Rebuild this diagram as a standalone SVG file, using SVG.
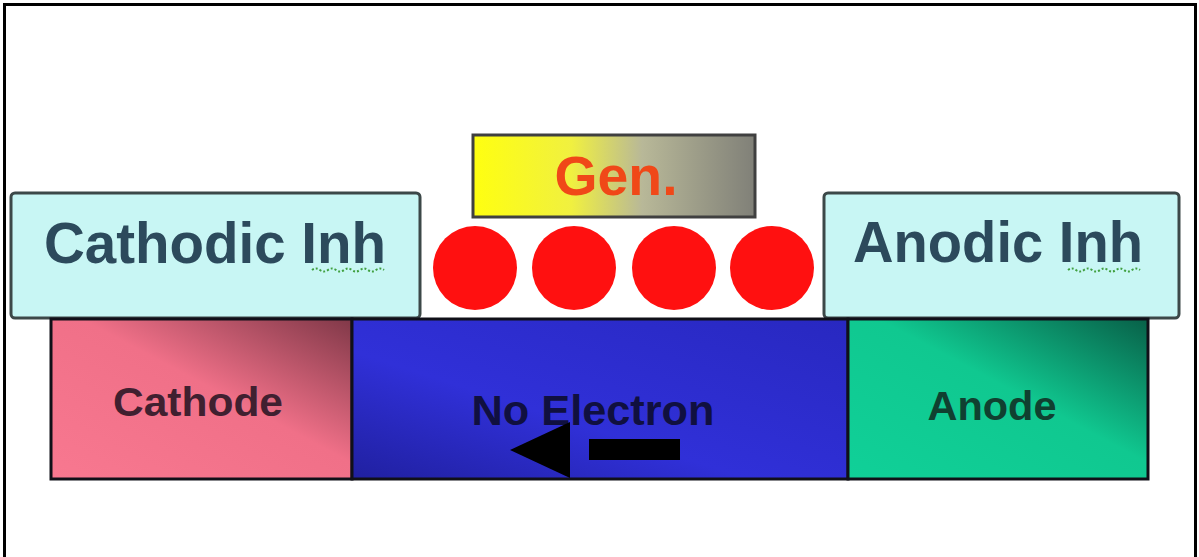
<svg xmlns="http://www.w3.org/2000/svg" width="1199" height="557" viewBox="0 0 1199 557">
<defs>
<linearGradient id="gGen" x1="0" y1="0" x2="1" y2="0">
<stop offset="0" stop-color="#ffff10"/>
<stop offset="0.35" stop-color="#f0f040"/>
<stop offset="0.6" stop-color="#b8b898"/>
<stop offset="1" stop-color="#808078"/>
</linearGradient>
<linearGradient id="gCath" x1="0" y1="1" x2="1" y2="0">
<stop offset="0" stop-color="#f87890"/>
<stop offset="0.55" stop-color="#f07088"/>
<stop offset="1" stop-color="#803848"/>
</linearGradient>
<linearGradient id="gNo" x1="0" y1="1" x2="1" y2="0">
<stop offset="0" stop-color="#2020a0"/>
<stop offset="0.4" stop-color="#3030d8"/>
<stop offset="1" stop-color="#2828c0"/>
</linearGradient>
<linearGradient id="gAn" x1="0" y1="1" x2="1" y2="0">
<stop offset="0" stop-color="#10d098"/>
<stop offset="0.55" stop-color="#10c890"/>
<stop offset="1" stop-color="#086048"/>
</linearGradient>
<style>
.inh{fill:#c8f6f4;stroke:#3c4848;stroke-width:3}
.lbl{font-family:"Liberation Sans",Arial,sans-serif;font-weight:bold;text-anchor:middle}
.bar{stroke:#101018;stroke-width:3}
.dot{fill:#ff1010}
.sq{fill:none;stroke:#40a040;stroke-width:2;stroke-dasharray:2 2}
</style>
</defs>
<rect x="0" y="0" width="1199" height="557" fill="#ffffff"/>
<rect x="4.5" y="4.5" width="1191" height="560" fill="none" stroke="#000" stroke-width="3"/>

<g id="gen">
<rect x="473" y="135" width="282" height="82" fill="url(#gGen)" stroke="#404040" stroke-width="3"/>
<text class="lbl" x="616" y="195" font-size="56" fill="#f04818" textLength="123" lengthAdjust="spacingAndGlyphs">Gen.</text>
</g>

<g id="cathodic-inh">
<rect class="inh" x="11" y="193" width="409" height="125" rx="4"/>
<text class="lbl" x="215" y="263" font-size="57" fill="#2c4a5c" textLength="342" lengthAdjust="spacingAndGlyphs">Cathodic Inh</text>
<path class="sq" d="M312 270 q4 -3 8 0 t8 0 t8 0 t8 0 t8 0 t8 0 t8 0 t8 0 t8 0"/>
</g>

<g id="anodic-inh">
<rect class="inh" x="824" y="193" width="355" height="125" rx="4"/>
<text class="lbl" x="998" y="262" font-size="57" fill="#2c4a5c" textLength="290" lengthAdjust="spacingAndGlyphs">Anodic Inh</text>
<path class="sq" d="M1068 270 q4 -3 8 0 t8 0 t8 0 t8 0 t8 0 t8 0 t8 0 t8 0 t8 0"/>
</g>

<g id="particles">
<circle class="dot" cx="475" cy="268" r="42"/>
<circle class="dot" cx="574" cy="268" r="42"/>
<circle class="dot" cx="674" cy="268" r="42"/>
<circle class="dot" cx="772" cy="268" r="42"/>
</g>

<g id="cathode">
<rect class="bar" x="51" y="319" width="301" height="160" fill="url(#gCath)"/>
<text class="lbl" x="198" y="416" font-size="40" fill="#402030" textLength="170" lengthAdjust="spacingAndGlyphs">Cathode</text>
</g>

<g id="no-electron">
<rect class="bar" x="352" y="319" width="496" height="160" fill="url(#gNo)"/>
<text class="lbl" x="593" y="425" font-size="42" fill="#101040" textLength="243" lengthAdjust="spacingAndGlyphs">No Electron</text>
</g>

<g id="anode">
<rect class="bar" x="848" y="319" width="300" height="160" fill="url(#gAn)"/>
<text class="lbl" x="992" y="420" font-size="41" fill="#104030" textLength="129" lengthAdjust="spacingAndGlyphs">Anode</text>
</g>

<g id="connectors">
<polygon points="510,450 570,422 570,478" fill="#000"/>
<rect x="589" y="439" width="91" height="21" fill="#000"/>
</g>
</svg>
